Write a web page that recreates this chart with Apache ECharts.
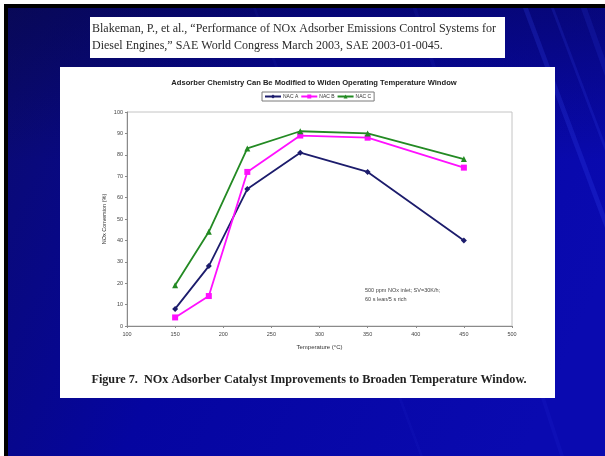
<!DOCTYPE html>
<html>
<head>
<meta charset="utf-8">
<script src="https://cdn.jsdelivr.net/npm/echarts@6/dist/echarts.min.js"></script>
<style>
  html, body { margin: 0; padding: 0; background: #ffffff; }
  #chart { width: 605px; height: 456px; }
</style>
</head>
<body>
<div id="chart"></div>
<script>
// Catalyst inlet temperature (°C)
const temperatures = [150, 185, 225, 280, 350, 450];
// NOx conversion (%) per adsorber formulation
const nacA = [8, 28, 64, 81, 72, 40];
const nacB = [4, 14, 72, 89, 88, 74];
const nacC = [19, 44, 83, 91, 90, 78];
const seriesNames = ['NAC A', 'NAC B', 'NAC C'];

const chartTitle = 'Adsorber Chemistry Can Be Modified to Widen Operating Temperature Window';
const xName = 'Temperature (°C)';
const yName = 'NOx Conversion (%)';
const noteLines = ['500 ppm NOx inlet; SV=30K/h;', '60 s lean/5 s rich'];
const citeLines = [
  'Blakeman, P., et al., \u201CPerformance of NOx Adsorber Emissions Control Systems for',
  'Diesel Engines,\u201D SAE World Congress March 2003, SAE 2003-01-0045.'
];
const caption = 'Figure 7.  NOx Adsorber Catalyst Improvements to Broaden Temperature Window.';

const pairs = ys => temperatures.map((t, i) => [t, ys[i]]);

const chart = echarts.init(document.getElementById('chart'), null, { renderer: 'canvas' });

// light diagonal streaks across the slide background
function streak(x1, x2, w, op) {
  return {
    type: 'polygon', silent: true, z: -95,
    shape: { points: [[x1, 0], [x1 + w, 0], [x2 + w, 456], [x2, 456]] },
    style: { fill: 'rgba(60,80,255,' + op + ')' }
  };
}

const option = {
  animation: false,
  backgroundColor: '#ffffff',
  title: {
    text: chartTitle,
    left: 309, top: 74, textAlign: 'center',
    textStyle: { fontFamily: 'Liberation Sans, Arial', fontSize: 7.6, fontWeight: 'bold', color: '#222' }
  },
  legend: {
    data: seriesNames,
    left: 262, top: 92,
    padding: [2, 3, 2, 2],
    itemGap: 2,
    itemWidth: 16, itemHeight: 5,
    borderColor: '#7a7a7a', borderWidth: 1,
    backgroundColor: '#ffffff',
    textStyle: { fontFamily: 'Liberation Sans, Arial', fontSize: 5, color: '#333', padding: [0, 0, 0, -3] }
  },
  grid: {
    left: 127, top: 112, right: 93, bottom: 130,
    show: true, borderColor: '#c4c4c4', borderWidth: 1, backgroundColor: '#ffffff'
  },
  xAxis: {
    type: 'value', min: 100, max: 500, interval: 50,
    name: xName, nameLocation: 'middle', nameGap: 18,
    nameTextStyle: { fontFamily: 'Liberation Sans, Arial', fontSize: 6, color: '#333' },
    axisLine: { lineStyle: { color: '#8a8a8a', width: 1 } },
    axisTick: { length: 2, lineStyle: { color: '#8a8a8a' } },
    axisLabel: { fontFamily: 'Liberation Sans, Arial', fontSize: 5.5, color: '#444', margin: 5 },
    splitLine: { show: false }
  },
  yAxis: {
    type: 'value', min: 0, max: 100, interval: 10,
    name: yName, nameLocation: 'middle', nameGap: 20, nameRotate: 90,
    nameMoveOverlap: false,
    nameTextStyle: { fontFamily: 'Liberation Sans, Arial', fontSize: 5.5, color: '#333' },
    axisLine: { show: true, lineStyle: { color: '#8a8a8a', width: 1 } },
    axisTick: { show: true, length: 2, lineStyle: { color: '#8a8a8a' } },
    axisLabel: { fontFamily: 'Liberation Sans, Arial', fontSize: 5.5, color: '#444', margin: 4 },
    splitLine: { show: false }
  },
  series: [
    {
      name: seriesNames[0], type: 'line', data: pairs(nacA),
      symbol: 'diamond', symbolSize: 6,
      lineStyle: { color: '#1c1c6c', width: 1.8 },
      itemStyle: { color: '#1c1c6c' }, z: 3
    },
    {
      name: seriesNames[1], type: 'line', data: pairs(nacB),
      symbol: 'rect', symbolSize: 6,
      lineStyle: { color: '#ff10ff', width: 1.8 },
      itemStyle: { color: '#ff10ff' }, z: 4
    },
    {
      name: seriesNames[2], type: 'line', data: pairs(nacC),
      symbol: 'triangle', symbolSize: 6,
      lineStyle: { color: '#238a23', width: 1.8 },
      itemStyle: { color: '#238a23' }, z: 5
    }
  ],
  graphic: [
    // slide background
    {
      type: 'rect', silent: true, z: -100,
      shape: { x: 0, y: 0, width: 605, height: 456 },
      style: {
        fill: new echarts.graphic.LinearGradient(0, 0, 1, 0.6, [
          { offset: 0, color: '#0b0b6a' },
          { offset: 0.45, color: '#0505a0' },
          { offset: 1, color: '#0a0ab0' }
        ])
      }
    },
    {
      type: 'rect', silent: true, z: -99,
      shape: { x: 0, y: 0, width: 605, height: 160 },
      style: {
        fill: new echarts.graphic.LinearGradient(0, 0, 0, 1, [
          { offset: 0, color: 'rgba(5,5,60,0.45)' },
          { offset: 1, color: 'rgba(5,5,60,0)' }
        ])
      }
    },
    streak(520, 690, 5, 0.2),
    streak(548, 720, 3, 0.16),
    streak(578, 740, 6, 0.14),
    streak(410, 560, 4, 0.08),
    streak(250, 420, 3, 0.06),
    // outer frame: white edge and black border
    { type: 'rect', silent: true, z: -90, shape: { x: 0, y: 0, width: 605, height: 4 }, style: { fill: '#ffffff' } },
    { type: 'rect', silent: true, z: -90, shape: { x: 0, y: 0, width: 4, height: 456 }, style: { fill: '#ffffff' } },
    { type: 'rect', silent: true, z: -90, shape: { x: 4, y: 4, width: 601, height: 4 }, style: { fill: '#000000' } },
    { type: 'rect', silent: true, z: -90, shape: { x: 4, y: 4, width: 4, height: 452 }, style: { fill: '#000000' } },
    // citation box
    {
      type: 'rect', silent: true, z: -80,
      shape: { x: 90, y: 17, width: 415, height: 41 },
      style: { fill: '#ffffff' }
    },
    {
      type: 'text', silent: true, z: -79,
      style: {
        x: 92, y: 20, text: citeLines.join('\n'),
        fontFamily: 'Liberation Serif, Times New Roman', fontSize: 12, lineHeight: 17,
        fill: '#2a2a2a'
      }
    },
    // chart panel
    {
      type: 'rect', silent: true, z: -80,
      shape: { x: 60, y: 67, width: 495, height: 331 },
      style: { fill: '#ffffff' }
    },
    {
      type: 'text', silent: true, z: 10,
      style: {
        x: 365, y: 286, text: noteLines.join('\n'),
        fontFamily: 'Liberation Sans, Arial', fontSize: 5.5, lineHeight: 9,
        fill: '#444'
      }
    },
    {
      type: 'text', silent: true, z: 10,
      style: {
        x: 309, y: 380, text: caption, align: 'center', verticalAlign: 'middle',
        fontFamily: 'Liberation Serif, Times New Roman', fontSize: 12.2, fontWeight: 'bold',
        fill: '#222'
      }
    }
  ]
};

chart.setOption(option);
</script>
</body>
</html>
